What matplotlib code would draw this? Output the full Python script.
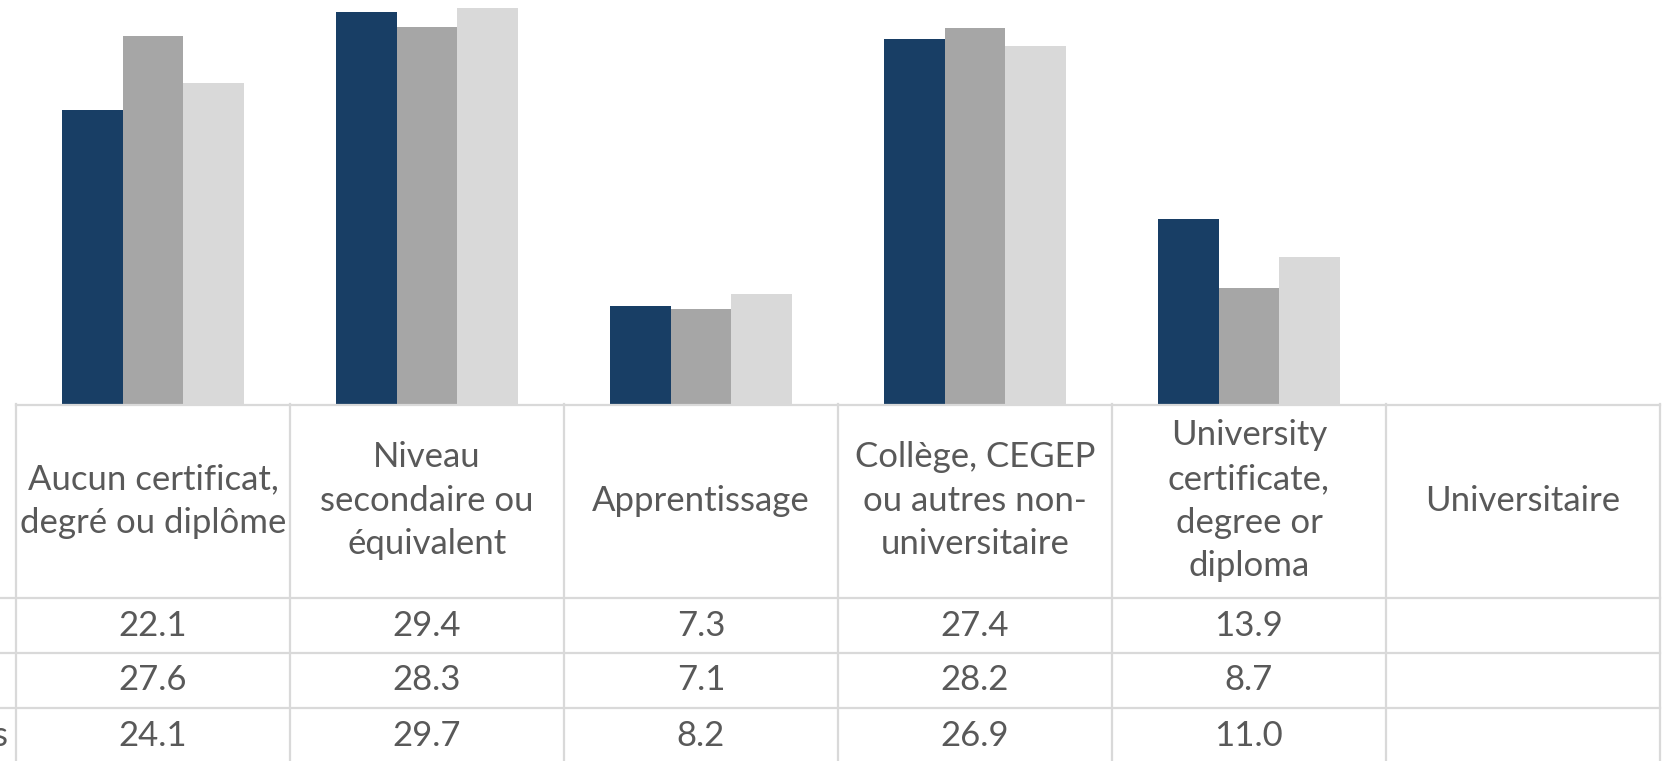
import numpy as np
import matplotlib.pyplot as plt

categories = ['Aucun certificat,\ndegré ou diplôme',
              'Niveau\nsecondaire ou\néquivalent',
              'Apprentissage',
              'Collège, CEGEP\nou autres non-\nuniversitaire',
              'University\ncertificate,\ndegree or\ndiploma',
              'Universitaire']
row_labels = ['Hommes', 'Femmes', 'Ensemble des personnes']
series_1 = [22.1, 29.4, 7.3, 27.4, 13.9, np.nan]
series_2 = [27.6, 28.3, 7.1, 28.2, 8.7, np.nan]
series_3 = [24.1, 29.7, 8.2, 26.9, 11.0, np.nan]

colors = ['#183e65', '#a6a6a6', '#d9d9d9']
text_color = '#595959'
grid_color = '#d9d9d9'
plt.rcParams['font.family'] = ['Lato', 'DejaVu Sans']

W, H = 1665, 761
fig = plt.figure(figsize=(W / 100, H / 100), dpi=100)

left_px, right_px = 16, 1660
axis_px = 403.5
ax = fig.add_axes([left_px / W, 1 - axis_px / H, (right_px - left_px) / W, axis_px / H])
x = np.arange(len(categories))
bw = 0.222
for i, (vals, c) in enumerate(zip([series_1, series_2, series_3], colors)):
    ax.bar(x + (i - 1) * bw, vals, bw, color=c, edgecolor='none')
ax.set_xlim(-0.5, len(categories) - 0.5)
ax.set_ylim(0, axis_px / 13.3)
ax.axis('off')

# data table below the axis
tab_h = H - axis_px
tab = fig.add_axes([left_px / W, 0, (right_px - left_px) / W, tab_h / H])
tab.set_xlim(-0.5, len(categories) - 0.5)
tab.set_ylim(tab_h, 0)
tab.axis('off')
col_px = (right_px - left_px) / len(categories)
x_edge = -0.5 - left_px / col_px
header_h = 194.5
row_h = 55
lw = 1.6
rows_y = [header_h + k * row_h for k in range(3)]
tab.plot([-0.5, len(categories) - 0.5], [1, 1], color=grid_color, lw=lw, clip_on=False)
for yy in rows_y:
    tab.plot([x_edge, len(categories) - 0.5], [yy, yy], color=grid_color, lw=lw, clip_on=False)
for k in range(len(categories) + 1):
    tab.plot([k - 0.5, k - 0.5], [0, tab_h], color=grid_color, lw=lw, clip_on=False)

fs = 25
for k, cat in enumerate(categories):
    tab.text(k, header_h / 2, cat, ha='center', va='center', fontsize=fs,
             color=text_color, linespacing=1.45)
for r, vals in enumerate([series_1, series_2, series_3]):
    yc = header_h + r * row_h + row_h / 2
    for k, v in enumerate(vals):
        if not np.isnan(v):
            tab.text(k, yc, '{0:.1f}'.format(v), ha='center', va='center',
                     fontsize=fs, color=text_color)

# row labels are left aligned and mostly fall off the left edge of the picture
renderer = fig.canvas.get_renderer()
probe = fig.text(0, 0, row_labels[-1], fontsize=fs)
label_w = probe.get_window_extent(renderer).width
probe.remove()
label_x = (8 - label_w) / W
for r, lab in enumerate(row_labels):
    yc = header_h + r * row_h + row_h / 2
    fig.text(label_x, (tab_h - yc) / H, lab, ha='left', va='center',
             fontsize=fs, color=text_color)

fig.savefig('out.png', dpi=100)
